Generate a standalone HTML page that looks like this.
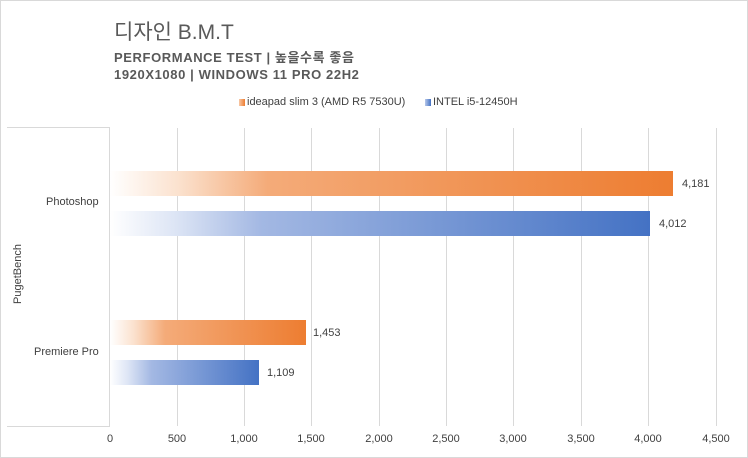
<!DOCTYPE html>
<html><head><meta charset="utf-8"><style>
body{margin:0;width:748px;height:458px;background:#fff;font-family:"Liberation Sans","Noto Sans CJK KR",sans-serif;position:relative;overflow:hidden}
.abs{position:absolute}
.border{left:0;top:0;width:746px;height:456px;border:1px solid #d9d9d9}
.t1{left:114px;top:16px;font-size:21px;color:#595959}
.t2{left:114px;top:47px;font-size:13px;color:#595959;letter-spacing:0.6px;font-weight:bold}
.t3{left:114px;top:67px;font-size:13px;color:#595959;letter-spacing:0.6px;font-weight:bold}
.grid{top:128px;height:298px;width:1px;background:#d9d9d9}
.bar{height:25px}
.o{background:linear-gradient(to right,#fff 0%,#fbe2cf 12%,#f4ab79 28%,#ed7d31 100%)}
.b{background:linear-gradient(to right,#fff 0%,#dde5f5 12%,#a3b8e3 28%,#4472c4 100%)}
.v{font-size:11px;color:#404040}
.x{top:433px;font-size:11px;color:#404040;width:60px;text-align:center}
.c{font-size:11px;color:#404040}
</style></head><body>
<div class="abs border"></div>
<div class="abs t1">디자인 B.M.T</div>
<div class="abs t2">PERFORMANCE TEST | 높을수록 좋음</div>
<div class="abs t3">1920X1080 | WINDOWS 11 PRO 22H2</div>
<div class="abs" style="left:239px;top:99px;width:6px;height:7px;background:linear-gradient(to right,#f8c8a6,#ed7d31)"></div>
<div class="abs c" style="left:247px;top:96px">ideapad slim 3 (AMD R5 7530U)</div>
<div class="abs" style="left:425px;top:99px;width:6px;height:7px;background:linear-gradient(to right,#b7c8ea,#4472c4)"></div>
<div class="abs c" style="left:433px;top:96px">INTEL i5-12450H</div>
<div class="abs" style="left:7px;top:127px;width:102px;height:298px;border-top:1px solid #d9d9d9;border-bottom:1px solid #d9d9d9;border-right:1px solid #d9d9d9"></div>
<div class="abs grid" style="left:177px"></div>
<div class="abs grid" style="left:244px"></div>
<div class="abs grid" style="left:311px"></div>
<div class="abs grid" style="left:379px"></div>
<div class="abs grid" style="left:446px"></div>
<div class="abs grid" style="left:513px"></div>
<div class="abs grid" style="left:581px"></div>
<div class="abs grid" style="left:648px"></div>
<div class="abs grid" style="left:716px"></div>
<div class="abs c" style="left:-12px;top:268px;transform:rotate(-90deg);font-size:11px">PugetBench</div>
<div class="abs c" style="left:46px;top:196px">Photoshop</div>
<div class="abs c" style="left:34px;top:346px">Premiere Pro</div>
<div class="abs bar o" style="left:110px;top:171px;width:563px"></div>
<div class="abs bar b" style="left:110px;top:211px;width:540px"></div>
<div class="abs bar o" style="left:110px;top:320px;width:196px"></div>
<div class="abs bar b" style="left:110px;top:360px;width:149px"></div>
<div class="abs v" style="left:682px;top:178px">4,181</div>
<div class="abs v" style="left:659px;top:218px">4,012</div>
<div class="abs v" style="left:313px;top:327px">1,453</div>
<div class="abs v" style="left:267px;top:367px">1,109</div>
<div class="abs x" style="left:80px">0</div>
<div class="abs x" style="left:147px">500</div>
<div class="abs x" style="left:214px">1,000</div>
<div class="abs x" style="left:281px">1,500</div>
<div class="abs x" style="left:349px">2,000</div>
<div class="abs x" style="left:416px">2,500</div>
<div class="abs x" style="left:483px">3,000</div>
<div class="abs x" style="left:551px">3,500</div>
<div class="abs x" style="left:618px">4,000</div>
<div class="abs x" style="left:686px">4,500</div>
</body></html>
